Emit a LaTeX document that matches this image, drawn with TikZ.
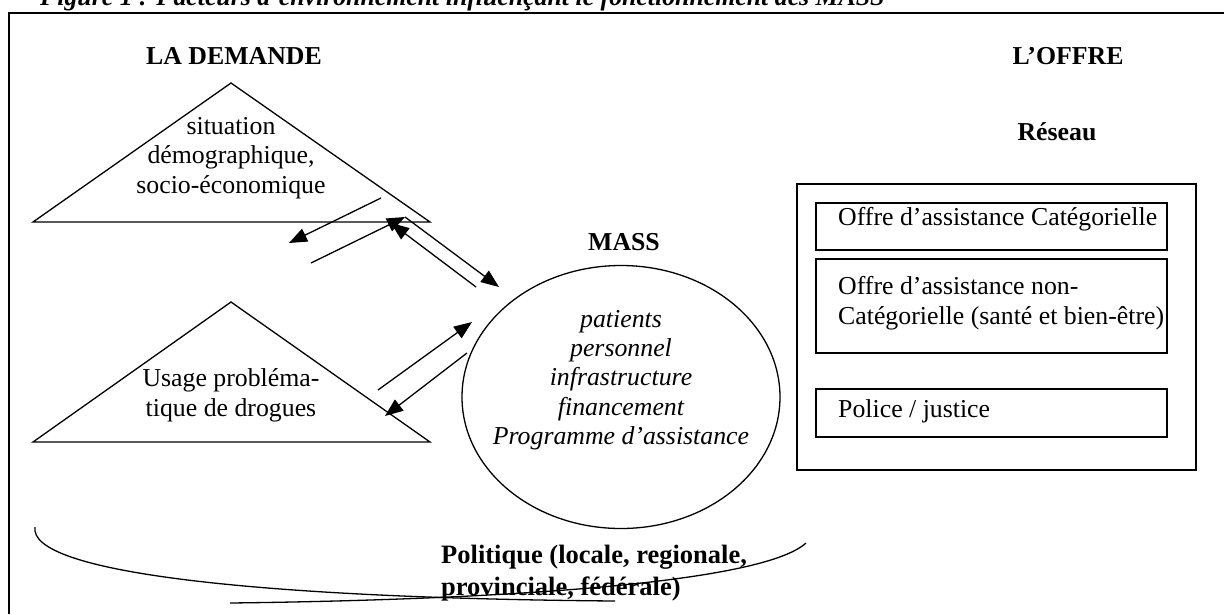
\documentclass[tikz,border=0pt]{standalone}
\usepackage{fontspec}
\setmainfont{Liberation Serif}
\usetikzlibrary{arrows.meta,shapes.geometric}
\begin{document}
\begin{tikzpicture}[x=1pt,y=-1pt,
  txt/.style={font=\fontsize{25.8}{29.7}\selectfont, inner sep=0pt, align=center},
  head/.style={font=\fontsize{25.8}{29.7}\selectfont\bfseries, inner sep=0pt},
  ln/.style={line width=1.3pt},
  arr/.style={line width=1.3pt, -{Triangle[length=18pt,width=14pt]}},
  boxr/.style={draw, line width=1.6pt, inner sep=0pt, minimum width=351pt},
]
\useasboundingbox (0,0) rectangle (1224,614);
\clip (0,0) rectangle (1224,614);

% frame and title
\draw[line width=2.2pt] (9,614) -- (9,13) -- (1224,13);
\node[anchor=base west, inner sep=0pt, font=\fontsize{25.8}{30}\selectfont\bfseries\itshape] (title) at (40,5)
  {Figure 1 : Facteurs d’environnement influençant le fonctionnement des MASS};

% headings
\node[head] (demande) at (234,56) {LA DEMANDE};
\node[head] (offre) at (1068,56) {L’OFFRE};
\node[head] (reseau) at (1057,132) {Réseau};
\node[head] (mass) at (624,242) {MASS};

% triangles
\coordinate (t1l) at (33,222); \coordinate (t1a) at (231,83); \coordinate (t1r) at (430,222);
\draw[ln] (t1l) -- (t1a) -- (t1r) -- cycle;
\node[txt] (t1txt) at (231,158) {situation\\démographique,\\socio-économique};

\coordinate (t2l) at (33,442); \coordinate (t2a) at (231,302); \coordinate (t2r) at (430,442);
\draw[ln] (t2l) -- (t2a) -- (t2r) -- cycle;
\node[txt] (t2txt) at (231,395) {Usage probléma-\\tique de drogues};

% MASS ellipse
\node[draw, ellipse, line width=1.3pt, minimum width=318pt, minimum height=263pt, inner sep=0pt] (ell) at (621,397) {};
\node[txt, font=\fontsize{25.8}{29.4}\selectfont\itshape] (elltxt) at (621,380)
  {patients\\personnel\\infrastructure\\financement\\Programme d’assistance};

% right boxes
\node[draw, line width=1.6pt, inner sep=0pt, minimum width=399pt, minimum height=286pt] (outer) at (996.5,327) {};
\node[boxr, minimum height=47pt] (b1) at (991.5,226.5) {};
\node[boxr, minimum height=94pt] (b2) at (991.5,306) {};
\node[boxr, minimum height=48pt] (b3) at (991.5,413) {};
\node[txt, anchor=base west] (b1txt) at (838,225) {Offre d’assistance Catégorielle};
\node[txt, anchor=west, align=left] (b2txt) at (838,303) {Offre d’assistance non-\\Catégorielle (santé et bien-être)};
\node[txt, anchor=base west] (b3txt) at (838,417) {Police / justice};

% arrows
\coordinate (a1s) at (381,198); \coordinate (a1e) at (289,243);
\coordinate (a2s) at (311,263); \coordinate (a2e) at (405,217);
\coordinate (a3s) at (476,287); \coordinate (a3e) at (391,223);
\coordinate (a4s) at (405,217); \coordinate (a4e) at (499,287);
\coordinate (b1s) at (378,390); \coordinate (b1e) at (472,322);
\coordinate (b2s) at (467,353); \coordinate (b2e) at (385,416);
\draw[arr] (a1s) -- (a1e);
\draw[arr] (a2s) -- (a2e);
\draw[arr] (a3s) -- (a3e);
\draw[arr] (a4s) -- (a4e);
\draw[arr] (b1s) -- (b1e);
\draw[arr] (b2s) -- (b2e);

% politique
\coordinate (c1s) at (35,527); \coordinate (c1e) at (615,601);
\coordinate (c2s) at (230,603); \coordinate (c2e) at (806,543);
\draw[ln] (c1s) .. controls (28,572) and (250,598) .. (c1e);
\draw[ln] (c2s) .. controls (480,600) and (760,585) .. (c2e);
\node[txt, font=\fontsize{26.5}{32}\selectfont\bfseries, align=left, anchor=west] (pol) at (441,573)
  {Politique (locale, regionale,\\provinciale, fédérale)};
\end{tikzpicture}
\end{document}
